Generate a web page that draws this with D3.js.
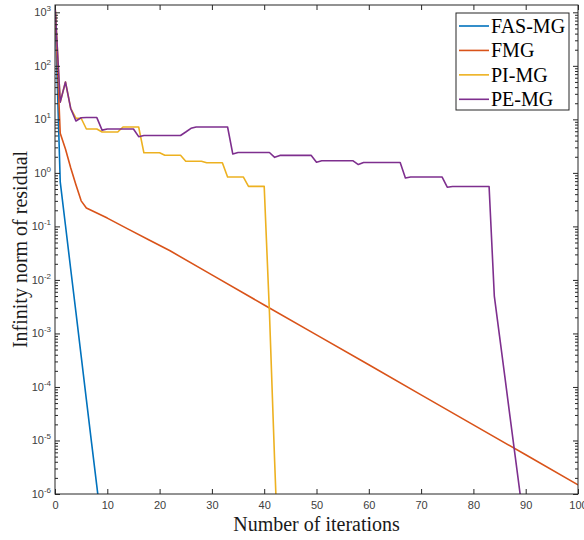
<!DOCTYPE html>
<html>
<head>
<meta charset="utf-8">
<script src="https://cdn.jsdelivr.net/npm/d3@7"></script>
<style>
  html, body { margin: 0; padding: 0; background: #fff; }
  svg { display: block; }
</style>
</head>
<body>
<svg id="chart" width="584" height="540"></svg>
<script>
// Residual history (infinity norm) per iteration for four multigrid variants.
const seriesNames = ["FAS-MG", "FMG", "PI-MG", "PE-MG"];
const seriesColors = ["#0072BD", "#D95319", "#EDB120", "#7E2F8E"];

const fasIter = [0, 1, 2, 3, 4, 5, 6, 7, 8, 9];
const fasRes  = [1370, 0.68, 0.105, 0.016, 2.5e-3, 3.8e-4, 5.8e-5, 8.9e-6, 1.4e-6, 2.1e-7];

const fmgIter = [0, 1, 2, 3, 4, 5, 6, 10, 14, 18, 22, 30, 40, 50, 60, 70, 80, 90, 100];
const fmgRes  = [1370, 5.5, 2.8, 1.25, 0.6, 0.3, 0.22, 0.143, 0.089, 0.0556, 0.035,
                 0.0124, 3.4e-3, 9.4e-4, 2.6e-4, 7.1e-5, 1.96e-5, 5.4e-6, 1.48e-6];

const piIter = d3.range(0, 44);
const piRes  = [1370, 21, 50, 16, 10.5, 10.5, 6.6, 6.6, 6.6, 5.8,
                5.8, 5.8, 5.8, 7.2, 7.2, 7.2, 7.2, 2.37, 2.37, 2.37,
                2.37, 2.14, 2.14, 2.14, 2.14, 1.65, 1.65, 1.65, 1.65, 1.55,
                1.55, 1.55, 1.55, 0.84, 0.84, 0.84, 0.84, 0.56, 0.56, 0.56,
                0.56, 2.5e-3, 4e-6, 1e-8];

const peIter = d3.range(0, 91);
const peRes  = [1370, 21, 50, 16, 9.3, 10.7, 10.8, 10.8, 10.8, 6.3,
                6.6, 6.6, 6.6, 6.6, 6.6, 6.6, 4.75, 5.0, 5.0, 5.0,
                5.0, 5.0, 5.0, 5.0, 5.0, 5.8, 6.8, 7.2, 7.2, 7.2,
                7.2, 7.2, 7.2, 7.2, 2.25, 2.4, 2.4, 2.4, 2.4, 2.4,
                2.4, 2.4, 1.95, 2.12, 2.12, 2.12, 2.12, 2.12, 2.12, 2.12,
                1.58, 1.68, 1.68, 1.68, 1.68, 1.68, 1.68, 1.68, 1.43, 1.56,
                1.56, 1.56, 1.56, 1.56, 1.56, 1.56, 1.56, 0.80, 0.84, 0.84,
                0.84, 0.84, 0.84, 0.84, 0.84, 0.54, 0.555, 0.555, 0.555, 0.555,
                0.555, 0.555, 0.555, 0.555, 5e-3, 8.9e-4, 1.6e-4, 2.8e-5, 5e-6, 8.9e-7,
                1.6e-7];

const xTicks = [0, 10, 20, 30, 40, 50, 60, 70, 80, 90, 100];
const yExponents = [-6, -5, -4, -3, -2, -1, 0, 1, 2, 3];

const series = [
  { name: seriesNames[0], color: seriesColors[0], xs: fasIter, ys: fasRes },
  { name: seriesNames[1], color: seriesColors[1], xs: fmgIter, ys: fmgRes },
  { name: seriesNames[2], color: seriesColors[2], xs: piIter,  ys: piRes },
  { name: seriesNames[3], color: seriesColors[3], xs: peIter,  ys: peRes }
];

const svg = d3.select("#chart");
const plot = { left: 55, right: 578, top: 5, bottom: 494 };
const axisColor = "#262626";
const tickFont = "'Liberation Sans', Arial, Helvetica, sans-serif";
const serif = "'Liberation Serif', 'Times New Roman', Times, serif";

const x = d3.scaleLinear().domain([0, 100]).range([plot.left, plot.right]);
const y = d3.scaleLog().domain([1e-6, 1370]).range([plot.bottom, plot.top]);

svg.append("rect").attr("width", 584).attr("height", 540).attr("fill", "#fff");

svg.append("defs").append("clipPath").attr("id", "plot-clip")
  .append("rect")
  .attr("x", plot.left).attr("y", plot.top)
  .attr("width", plot.right - plot.left).attr("height", plot.bottom - plot.top);

// Data lines
const line = d3.line().x(d => x(d[0])).y(d => y(d[1]));
const linesG = svg.append("g").attr("clip-path", "url(#plot-clip)");
series.forEach(s => {
  const pts = s.xs.map((v, i) => [v, s.ys[i]]);
  linesG.append("path")
    .datum(pts)
    .attr("d", line)
    .attr("fill", "none")
    .attr("stroke", s.color)
    .attr("stroke-width", 1.6)
    .attr("stroke-linejoin", "round");
});

// Bottom axis (ticks point inward)
const xAxisB = svg.append("g")
  .attr("transform", `translate(0,${plot.bottom})`)
  .call(d3.axisBottom(x).tickValues(xTicks).tickSizeInner(-5).tickSizeOuter(0).tickPadding(7));
xAxisB.select(".domain").remove();
xAxisB.selectAll("line").attr("stroke", axisColor);
xAxisB.selectAll("text").attr("fill", "#404040").style("font-family", tickFont).style("font-size", "11px");

// Top axis ticks
const xAxisT = svg.append("g")
  .attr("transform", `translate(0,${plot.top})`)
  .call(d3.axisTop(x).tickValues(xTicks).tickSizeInner(-5).tickSizeOuter(0).tickFormat(""));
xAxisT.select(".domain").remove();
xAxisT.selectAll("line").attr("stroke", axisColor);

// Log y axis: major and minor ticks on both sides
const majors = yExponents.map(e => Math.pow(10, e));
const minors = [];
yExponents.forEach(e => {
  for (let m = 2; m <= 9; m++) {
    const v = m * Math.pow(10, e);
    if (v <= 1370) minors.push(v);
  }
});

const yAxisL = svg.append("g")
  .attr("transform", `translate(${plot.left},0)`)
  .call(d3.axisLeft(y).tickValues(majors).tickSizeInner(-5).tickSizeOuter(0).tickFormat(""));
yAxisL.select(".domain").remove();
yAxisL.selectAll("line").attr("stroke", axisColor);

const yAxisR = svg.append("g")
  .attr("transform", `translate(${plot.right},0)`)
  .call(d3.axisRight(y).tickValues(majors).tickSizeInner(-5).tickSizeOuter(0).tickFormat(""));
yAxisR.select(".domain").remove();
yAxisR.selectAll("line").attr("stroke", axisColor);

const yMinL = svg.append("g")
  .attr("transform", `translate(${plot.left},0)`)
  .call(d3.axisLeft(y).tickValues(minors).tickSizeInner(-3).tickSizeOuter(0).tickFormat(""));
yMinL.select(".domain").remove();
yMinL.selectAll("line").attr("stroke", axisColor);

const yMinR = svg.append("g")
  .attr("transform", `translate(${plot.right},0)`)
  .call(d3.axisRight(y).tickValues(minors).tickSizeInner(-3).tickSizeOuter(0).tickFormat(""));
yMinR.select(".domain").remove();
yMinR.selectAll("line").attr("stroke", axisColor);

// Y tick labels as 10^k
const yLab = svg.append("g").attr("font-family", tickFont).attr("fill", "#404040");
yExponents.forEach(e => {
  const t = yLab.append("text")
    .attr("x", plot.left - 4)
    .attr("y", y(Math.pow(10, e)) + 4)
    .attr("text-anchor", "end")
    .style("font-size", "11px");
  t.append("tspan").text("10");
  t.append("tspan").attr("dy", -5).style("font-size", "8px").text(String(e));
});

// Plot box
svg.append("rect")
  .attr("x", plot.left).attr("y", plot.top)
  .attr("width", plot.right - plot.left).attr("height", plot.bottom - plot.top)
  .attr("fill", "none").attr("stroke", axisColor).attr("stroke-width", 1);

// Axis titles
svg.append("text")
  .attr("x", (plot.left + plot.right) / 2).attr("y", 531)
  .attr("text-anchor", "middle")
  .attr("font-family", serif).attr("font-size", 20).attr("fill", "#1a1a1a")
  .text("Number of iterations");

svg.append("text")
  .attr("transform", `translate(27,${(plot.top + plot.bottom) / 2}) rotate(-90)`)
  .attr("text-anchor", "middle")
  .attr("font-family", serif).attr("font-size", 20).attr("fill", "#1a1a1a")
  .text("Infinity norm of residual");

// Legend
const legend = svg.append("g");
legend.append("rect")
  .attr("x", 456).attr("y", 13).attr("width", 113).attr("height", 97)
  .attr("fill", "#fff").attr("stroke", axisColor).attr("stroke-width", 1);
const rowY = d3.scalePoint().domain(seriesNames).range([26, 99.3]);
series.forEach(s => {
  const yy = rowY(s.name);
  legend.append("line")
    .attr("x1", 459).attr("x2", 489).attr("y1", yy).attr("y2", yy)
    .attr("stroke", s.color).attr("stroke-width", 1.6);
  legend.append("text")
    .attr("x", 491).attr("y", yy + 6.8)
    .attr("font-family", serif).attr("font-size", 20).attr("fill", "#000")
    .text(s.name);
});
</script>
</body>
</html>
